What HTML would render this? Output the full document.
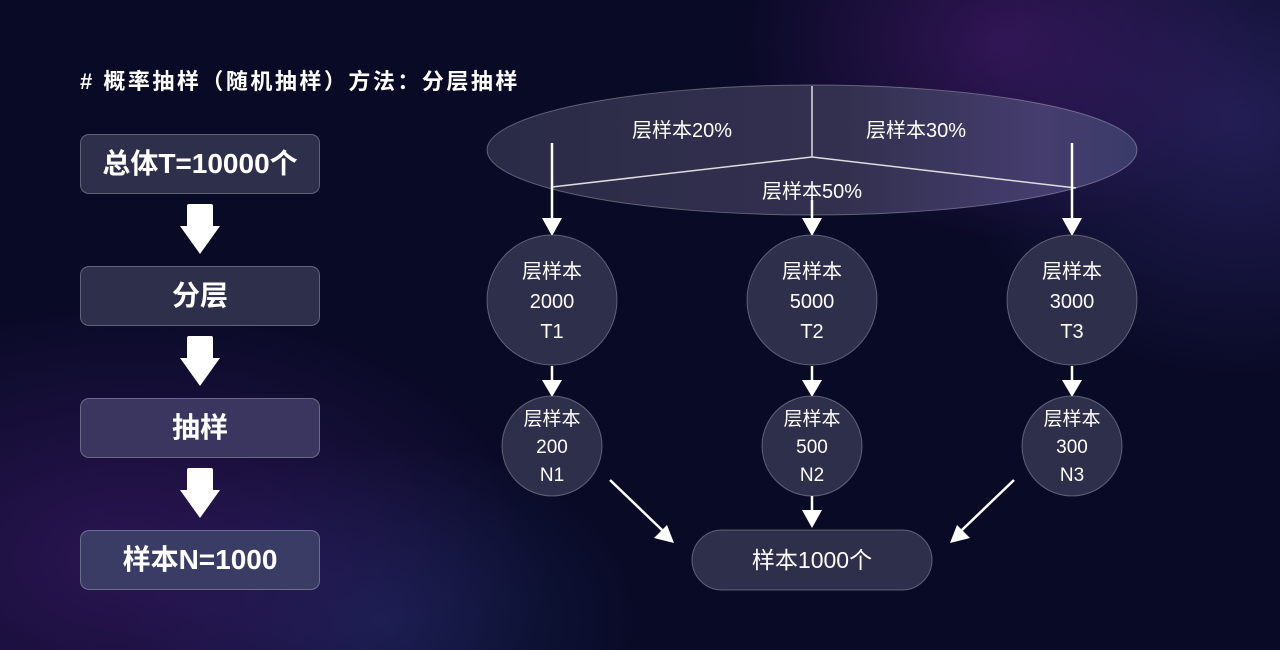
<!DOCTYPE html>
<html><head><meta charset="utf-8"><style>
html,body{margin:0;padding:0}
body{width:1280px;height:650px;overflow:hidden;position:relative;font-family:"Liberation Sans","Noto Sans CJK SC",sans-serif;color:#fff;
background:
radial-gradient(ellipse 260px 200px at 1000px 40px,rgba(80,30,120,0.55),transparent),
radial-gradient(ellipse 300px 260px at 1240px 120px,rgba(60,50,130,0.5),transparent),
radial-gradient(ellipse 420px 260px at 130px 560px,rgba(70,30,120,0.55),transparent),
radial-gradient(ellipse 260px 180px at 380px 620px,rgba(30,50,110,0.5),transparent),
#090a26;}
.t{position:absolute;left:80px;top:64px;font-size:22px;font-weight:bold;letter-spacing:2.5px}
.b{position:absolute;left:80px;width:238px;height:58px;border:1px solid rgba(255,255,255,0.25);border-radius:9px;background:#2e2f4b;font-size:28px;font-weight:bold;text-align:center;line-height:58px}
svg{position:absolute;left:0;top:0}
</style></head><body>
<div class="t"># 概率抽样（随机抽样）方法：分层抽样</div>
<div class="b" style="top:134px">总体T=10000个</div>
<div class="b" style="top:266px">分层</div>
<div class="b" style="top:398px;background:#3a3660">抽样</div>
<div class="b" style="top:530px;background:#3b3c66">样本N=1000</div>
<svg width="1280" height="650" viewBox="0 0 1280 650">
<defs>
<linearGradient id="eg" x1="0" x2="1"><stop offset="0" stop-color="#2a2b47"/><stop offset="0.55" stop-color="#33304f"/><stop offset="0.85" stop-color="#453d6e"/><stop offset="1" stop-color="#3a3b6a"/></linearGradient>
</defs>
<g fill="#fff">
<path d="M189,204h22a2,2 0 0 1 2,2v20h7l-20,28l-20,-28h7v-20a2,2 0 0 1 2,-2z"/>
<path d="M189,336h22a2,2 0 0 1 2,2v20h7l-20,28l-20,-28h7v-20a2,2 0 0 1 2,-2z"/>
<path d="M189,468h22a2,2 0 0 1 2,2v20h7l-20,28l-20,-28h7v-20a2,2 0 0 1 2,-2z"/>
</g>
<ellipse cx="812" cy="150" rx="325" ry="65" fill="url(#eg)" stroke="rgba(255,255,255,0.3)"/>
<path d="M812,86V157M812,157L552,187M812,157L1076,188" stroke="#ddd" stroke-width="1.5" fill="none"/>
<g font-size="20" fill="#fff" text-anchor="middle">
<text x="682" y="137">层样本20%</text>
<text x="916" y="137">层样本30%</text>
<text x="812" y="198">层样本50%</text>
</g>
<g stroke="#fff" stroke-width="2.5" fill="none">
<path d="M552,143V225"/><path d="M812,200V225"/><path d="M1072,143V225"/>
<path d="M552,366V385"/><path d="M812,366V385"/><path d="M1072,366V385"/>
<path d="M812,496V516"/>
<path d="M610,480L662,530"/><path d="M1014,480L962,530"/>
</g>
<g fill="#fff">
<path d="M542,218h20l-10,18z"/><path d="M802,218h20l-10,18z"/><path d="M1062,218h20l-10,18z"/>
<path d="M542,380h20l-10,17z"/><path d="M802,380h20l-10,17z"/><path d="M1062,380h20l-10,17z"/>
<path d="M802,510h20l-10,18z"/>
<path d="M674,543L654,538L667,525z"/><path d="M950,543L957,525L970,538z"/>
</g>
<g fill="#2e2f4b" stroke="rgba(255,255,255,0.3)">
<circle cx="552" cy="300" r="65"/><circle cx="812" cy="300" r="65"/><circle cx="1072" cy="300" r="65"/>
<circle cx="552" cy="446" r="50"/><circle cx="812" cy="446" r="50"/><circle cx="1072" cy="446" r="50"/>
<rect x="692" y="530" width="240" height="60" rx="30"/>
</g>
<g font-size="20" fill="#fff" text-anchor="middle">
<text x="552" y="278">层样本</text><text x="552" y="308">2000</text><text x="552" y="338">T1</text>
<text x="812" y="278">层样本</text><text x="812" y="308">5000</text><text x="812" y="338">T2</text>
<text x="1072" y="278">层样本</text><text x="1072" y="308">3000</text><text x="1072" y="338">T3</text>
</g>
<g font-size="19" fill="#fff" text-anchor="middle">
<text x="552" y="425">层样本</text><text x="552" y="453">200</text><text x="552" y="481">N1</text>
<text x="812" y="425">层样本</text><text x="812" y="453">500</text><text x="812" y="481">N2</text>
<text x="1072" y="425">层样本</text><text x="1072" y="453">300</text><text x="1072" y="481">N3</text>
<text x="812" y="568" font-size="23">样本1000个</text>
</g>
</svg>
</body></html>
